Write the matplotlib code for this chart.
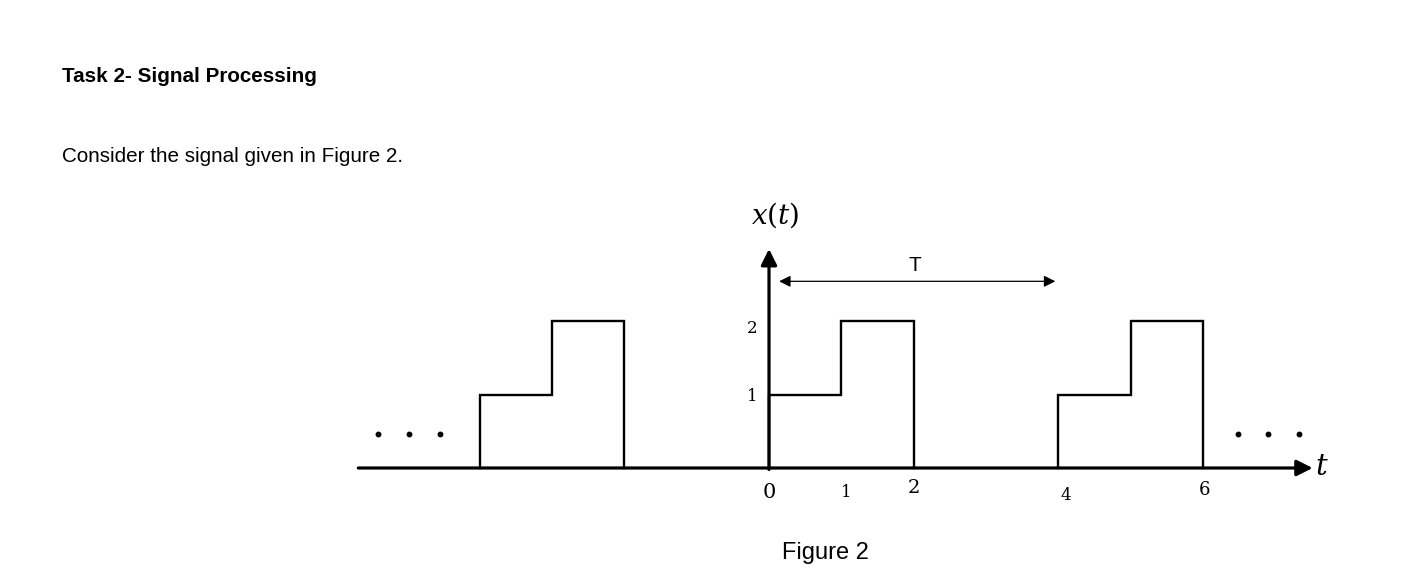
import matplotlib
matplotlib.use('Agg')
import matplotlib.pyplot as plt

plt.rcParams['mathtext.fontset'] = 'dejavuserif'

# one period of x(t): 1 on [0,1), 2 on [1,2), 0 on [2,4)
period_starts = [-4, 0, 4]
step_t = [0, 0, 1, 1, 2, 2]
step_x = [0, 1, 1, 2, 2, 0]

# dots for "continues"
dots_left_t = [-5.41, -4.98, -4.55]
dots_right_t = [6.49, 6.90, 7.33]
dot_level = 0.46

# tick labels on t axis (label, t, y)
t_labels = ['0', '1', '2', '4', '6']
t_label_pos = [0.0, 1.07, 2.0, 4.1, 6.03]
t_label_y = [-0.33, -0.34, -0.27, -0.37, -0.30]
t_label_size = [15, 12, 14, 12, 13]

# tick labels on x axis
x_labels = ['1', '2']
x_label_pos = [0.97, 1.90]

T_start, T_end, T_level = 0.14, 3.96, 2.54

fig = plt.figure(figsize=(14.13, 5.7), dpi=100)
ax = fig.add_axes([0, 0, 1, 1])
ax.set_xlim(-769 / 72.3, (1413 - 769) / 72.3)
ax.set_ylim(-(570 - 468) / 73.5, 468 / 73.5)
ax.axis('off')

# axes with arrows
ax.annotate('', xy=(7.52, 0), xytext=(-5.68, 0),
            arrowprops=dict(arrowstyle='-|>', lw=2.3, color='k', mutation_scale=24,
                            shrinkA=0, shrinkB=0))
ax.annotate('', xy=(0, 2.98), xytext=(0, -0.02),
            arrowprops=dict(arrowstyle='-|>', lw=2.3, color='k', mutation_scale=24,
                            shrinkA=0, shrinkB=0))

# signal
for p in period_starts:
    ax.plot([p + s for s in step_t], step_x, color='k', lw=1.7, solid_joinstyle='miter')

# dots
ax.plot(dots_left_t, [dot_level] * 3, 'o', color='k', ms=3.2)
ax.plot(dots_right_t, [dot_level] * 3, 'o', color='k', ms=3.2)

# period arrow
ax.annotate('', xy=(T_end, T_level), xytext=(T_start, T_level),
            arrowprops=dict(arrowstyle='<|-|>', lw=0.9, color='k', mutation_scale=17,
                            shrinkA=0, shrinkB=0))
ax.text(2.02, 2.76, 'T', fontsize=15, family='Liberation Sans', ha='center', va='center')

# labels
ax.text(0.08, 3.44, r'$x(t)$', fontsize=20, ha='center', va='center')
ax.text(7.65, 0.02, r'$t$', fontsize=21, ha='center', va='center')
for lab, t, y, s in zip(t_labels, t_label_pos, t_label_y, t_label_size):
    ax.text(t, y, lab, fontsize=s, family='DejaVu Serif', ha='center', va='center')
for lab, y in zip(x_labels, x_label_pos):
    ax.text(-0.235, y, lab, fontsize=12, family='DejaVu Serif', ha='center', va='center')

# page text
fig.text(62 / 1413, 1 - 76 / 570, 'Task 2- Signal Processing', fontsize=14.9,
         fontweight='bold', family='Liberation Sans', ha='left', va='center')
fig.text(62 / 1413, 1 - 156 / 570, 'Consider the signal given in Figure 2.', fontsize=14.85,
         family='Liberation Sans', ha='left', va='center')
fig.text(825 / 1413, 1 - 553 / 570, 'Figure 2', fontsize=17,
         family='Liberation Sans', ha='center', va='center')

fig.savefig('out.png', dpi=100)
